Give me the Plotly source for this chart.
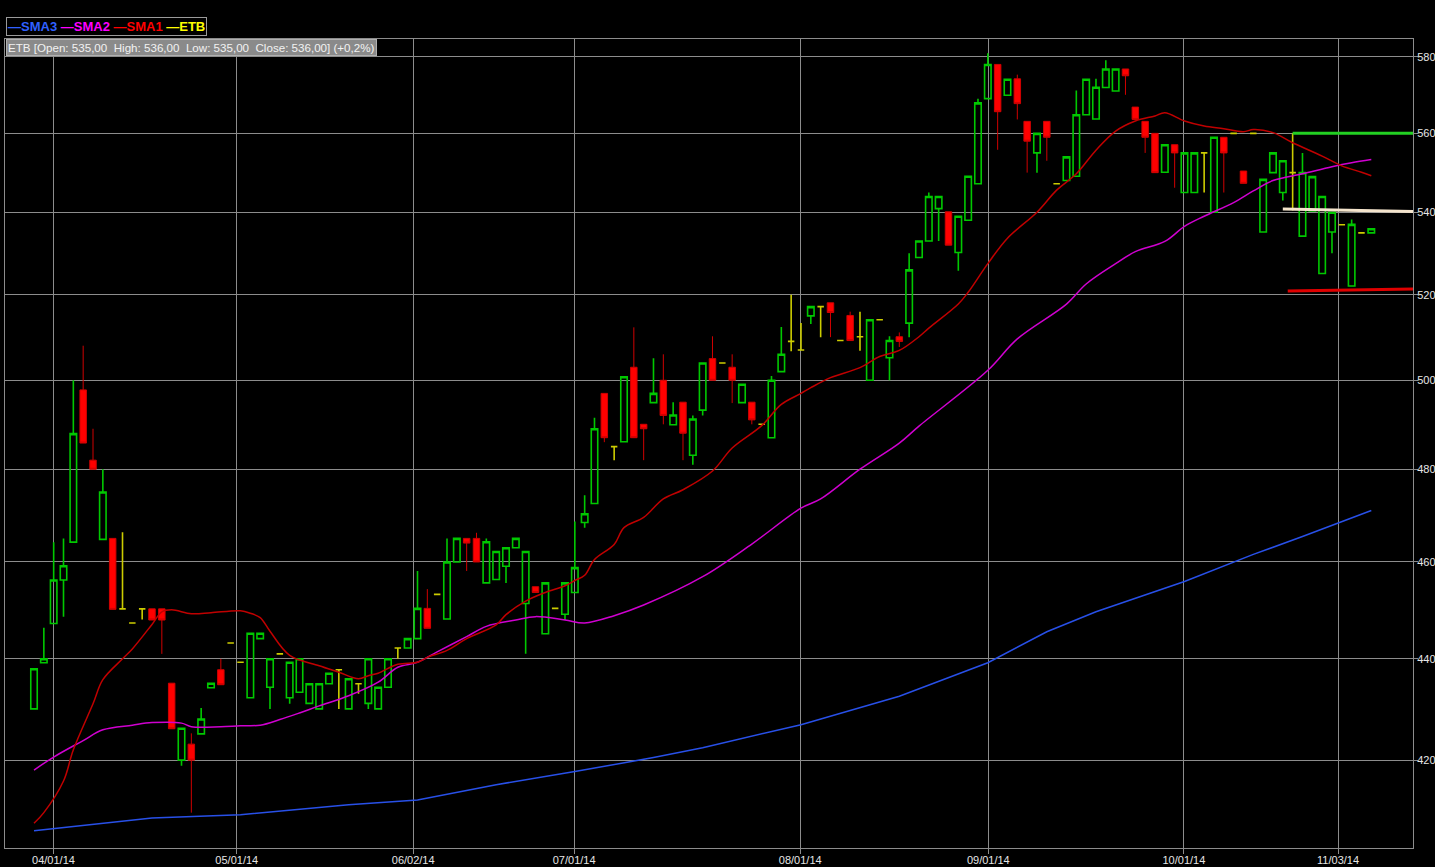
import plotly.graph_objects as go

# ---------------- data ----------------
OPEN = [430, 439.2, 447.2, 456.2, 464.2, 497.8, 482, 464.8, 465, 450.2,
        447.3, 450.2, 450.2, 450.2, 435.1, 420, 423.1, 425.1, 434.2, 437.8,
        443.2, 439.3, 432.2, 444.1, 434.3, 441, 432.2, 433.3, 431.1, 430,
        435, 437.8, 430, 435, 431.1, 430, 434.3, 442.2, 442.2, 444.1,
        450.3, 453.2, 448.1, 460, 465, 465, 455.6, 456.3, 459.1, 463,
        451.3, 454.8, 445.1, 450.3, 449.1, 453.6, 468.4, 472.5, 497, 485,
        486.1, 503, 490, 494.9, 500, 489.9, 495, 483.1, 493.2, 505,
        504, 503, 494.9, 495, 490, 487, 502, 509, 507, 515,
        517.2, 518.1, 509.2, 515.1, 510.1, 500, 514.1, 505.2, 510.1, 513.3,
        529, 533, 541, 540.2, 530.2, 538.1, 547.2, 569, 578, 569.9,
        574.2, 563.1, 555, 563.1, 547.2, 548, 549.1, 564.8, 563.7, 571.9,
        571, 576.8, 566.8, 563.1, 560, 550.1, 557.1, 545, 545, 555,
        540.1, 559, 560, 550.4, 560, 535.2, 550, 545, 550, 534.2,
        540.4, 525.1, 535.2, 537, 522.1, 535, 535]
HIGH = [438, 446.3, 464.2, 465, 500, 508, 489, 480, 465, 466.3,
        447.3, 450.2, 450.2, 450.2, 435.1, 426.2, 425.2, 430.2, 435.1, 440,
        443.2, 439.3, 445.2, 445.2, 440, 441, 439.3, 440, 435, 435,
        437.1, 437.8, 436, 435, 440, 434.3, 440, 442.2, 444.1, 458.1,
        454.3, 453.2, 465, 465, 465, 466.2, 465, 462.2, 463, 465,
        462.2, 454.8, 455.6, 450.3, 455.6, 468.6, 474.3, 491.5, 497, 485,
        500.8, 512.3, 490, 505.1, 506, 495, 495, 492, 504, 510.2,
        504, 506, 499.1, 495, 490, 501, 512.4, 520, 513.3, 517.2,
        517.2, 518.1, 509.2, 516, 516, 514.1, 514.1, 510.2, 511.1, 530,
        533, 545, 544, 540.2, 539.1, 549.1, 569, 581, 578, 574.1,
        575.3, 563.1, 560, 563.1, 547.2, 554, 571.1, 574.1, 574.2, 579.1,
        576.8, 576.8, 566.8, 563.1, 560, 557.1, 557.1, 555, 555, 555,
        559, 559, 560, 550.4, 560, 548.3, 555, 553, 560, 555,
        549, 544, 540.1, 537, 538.3, 535, 536]
LOW = [430, 439.2, 447.2, 448.6, 464.2, 485.8, 480, 464.8, 450.1, 450.2,
       447.3, 448, 447.9, 441, 426.1, 418.9, 410, 425.1, 434.2, 434.8,
       443.2, 439.3, 432.2, 444.1, 430, 441, 431, 433.3, 431.1, 430,
       435, 430, 430, 433, 430, 430, 434.3, 440, 442.2, 444.1,
       446.2, 453.2, 448.1, 460, 458.1, 460, 455.6, 456.3, 455.6, 463,
       441, 453.6, 445.1, 450.3, 447.9, 453.6, 467.3, 472.5, 486, 482,
       486.1, 487, 482, 494.9, 490, 489.9, 482, 481, 492, 500,
       504, 494.8, 494.9, 490, 490, 487, 502, 506.7, 507, 513.1,
       510, 510, 509.2, 509.2, 506.8, 500, 514.1, 500, 507.7, 510,
       529, 533, 533, 532, 525.8, 538.1, 547.2, 569, 555.8, 569.9,
       563.6, 550, 550, 553, 547.2, 548, 549.1, 564.8, 563.7, 571.9,
       571, 570, 563.6, 555, 550, 550.1, 546.2, 545, 545, 545,
       540.1, 545, 560, 547.3, 560, 535.2, 550, 543, 540.5, 534.2,
       540.4, 525.1, 530, 537, 522.1, 535, 535]
CLOSE = [438, 440, 456.2, 459.2, 487.9, 485.8, 480, 475, 450.1, 450.2,
         447.3, 450.2, 447.9, 447.9, 426.1, 426.2, 420, 428, 435.1, 434.8,
         443.2, 439.3, 445.2, 445.2, 440, 441, 439.3, 440, 435, 435,
         437.1, 437.8, 436, 435, 440, 434.3, 440, 442.2, 444.1, 450.3,
         446.2, 453.2, 460, 465, 464, 460, 464.3, 462.2, 463, 465,
         462.2, 453.6, 455.6, 450.3, 455.6, 458.8, 470.3, 489, 487, 485,
         500.8, 487, 489, 497, 492, 492.1, 488, 491.2, 504, 500,
         504, 500, 499.1, 491, 490, 500, 506, 509, 507, 517.2,
         517.2, 515.8, 509.2, 509.2, 510.1, 514.1, 514.1, 509.2, 509, 526,
         533, 544, 544, 532, 539.1, 549.1, 567.9, 578, 565.6, 574.1,
         567.7, 558, 560, 559, 547.2, 554, 564.8, 574.1, 572, 576.8,
         576.8, 575, 563.6, 559, 550, 557.1, 555, 555, 555, 555,
         559, 555, 560, 547.3, 560, 548.3, 555, 553, 550, 550,
         549, 544, 540.1, 537, 537.1, 535, 536]

# moving averages, read at sample sessions (session index, value)
SMA1_IDX = [0, 1, 3, 4, 6, 7, 9, 10, 12, 13, 14, 16, 18, 21, 22, 23, 24, 26, 29, 31,
            33, 34, 35, 37, 39, 40, 42, 44, 47, 48, 50, 52, 54, 55, 56, 57, 59, 60, 62, 64,
            66, 69, 71, 74, 76, 78, 79, 81, 84, 86, 88, 90, 91, 94, 95, 97, 99, 102, 104, 106,
            108, 110, 112, 114, 115, 117, 119, 121, 123, 124, 126, 128, 131, 133, 135, 136]
SMA1_VAL = [408, 410, 416, 422, 431, 435.8, 440, 442, 447, 449.6, 450, 449.2, 449.4, 449.8, 449.3, 448.4, 445.6, 440.7, 438.6, 437.3,
            436, 436.6, 437.1, 438.9, 439.3, 440.3, 441.7, 444.1, 446.9, 449, 451.8, 453.6, 455, 456.1, 457.2, 460.5, 463.7, 467.3, 469.5, 473.5,
            475.5, 479.6, 484.7, 489.7, 494.5, 497, 498.3, 500.6, 502.9, 505.5, 506.9, 510.1, 512.1, 517.8, 520.6, 527.5, 533.7, 540.1, 545.6, 549.7,
            555.7, 560.6, 563.2, 564.5, 565.3, 563.2, 561.9, 561.2, 560.4, 561, 560.2, 557.6, 554.2, 551.7, 550.1, 549.2]
SMA2_IDX = [0, 2, 5, 7, 10, 12, 15, 16, 19, 21, 23, 25, 27, 29, 32, 35, 37, 39, 41, 44,
            46, 49, 51, 54, 56, 59, 62, 68, 73, 78, 80, 84, 88, 90, 97, 100, 105, 107, 110, 112,
            115, 117, 119, 122, 124, 126, 129, 132, 134, 136]
SMA2_VAL = [418.1, 420.6, 423.8, 425.9, 426.8, 427.3, 427.2, 426.5, 426.5, 426.7, 426.8, 427.9, 429.2, 430.6, 432.6, 435.3, 438.3, 439.3, 441.4, 444.5,
            446.6, 447.9, 448.6, 447.9, 447.3, 448.8, 451, 456.9, 463.8, 471.5, 473.5, 480, 485.8, 489.6, 502.3, 509.6, 517.8, 522.6, 527.5, 530.4,
            532.9, 536.6, 539.1, 542.5, 545.4, 548, 549.7, 551.5, 552.5, 553.3]
SMA3_IDX = [0, 12, 21, 32, 39, 47, 55, 63, 68, 78, 88, 97, 103, 108, 117, 124, 129, 136]
SMA3_VAL = [406.6, 409.0, 409.6, 411.5, 412.4, 415.3, 417.8, 420.5, 422.4, 426.9,
            432.5, 439.2, 445.5, 449.6, 455.9, 461.6, 465.4, 471.0]

# drawn trend lines (session position, price)
RESIST_X, RESIST_Y = [128, 140.3], [560, 560]
MID_X, MID_Y = [127, 140.3], [540.9, 540.3]
SUPPORT_X, SUPPORT_Y = [127.5, 140.3], [520.9, 521.4]

X_TICK_POS = [1.98, 20.62, 38.56, 54.93, 77.92, 97.05, 116.94, 132.62]
X_TICK_TEXT = ['04/01/14', '05/01/14', '06/02/14', '07/01/14', '08/01/14',
               '09/01/14', '10/01/14', '11/03/14']
Y_TICKS = [420, 440, 460, 480, 500, 520, 540, 560, 580]

# ---------------------------------------------------------------
idx = list(range(len(OPEN)))
GREEN, RED, YEL = '#00c800', '#ff0000', '#cccc00'


def pick(cond):
    s = [i for i in idx if cond(OPEN[i], CLOSE[i])]
    return dict(x=s, open=[OPEN[i] for i in s], high=[HIGH[i] for i in s],
                low=[LOW[i] for i in s], close=[CLOSE[i] for i in s])


fig = go.Figure()
fig.add_trace(go.Scatter(x=SMA3_IDX, y=SMA3_VAL, mode='lines', name='SMA3',
                         line=dict(color='#2850e8', width=1.5), hoverinfo='skip'))
fig.add_trace(go.Scatter(x=SMA2_IDX, y=SMA2_VAL, mode='lines', name='SMA2',
                         line=dict(color='#d000d0', width=1.5, shape='spline'), hoverinfo='skip'))
fig.add_trace(go.Scatter(x=SMA1_IDX, y=SMA1_VAL, mode='lines', name='SMA1',
                         line=dict(color='#c00000', width=1.5, shape='spline'), hoverinfo='skip'))

up = pick(lambda o, c: c > o)
dn = pick(lambda o, c: c < o)
dj = pick(lambda o, c: c == o)
fig.add_trace(go.Candlestick(**up, name='ETB',
                             increasing=dict(line=dict(color=GREEN, width=1.6), fillcolor='rgba(0,0,0,0)'),
                             decreasing=dict(line=dict(color=GREEN, width=1.6), fillcolor='rgba(0,0,0,0)')))
fig.add_trace(go.Candlestick(**dn, name='ETB',
                             increasing=dict(line=dict(color='#d00000', width=1), fillcolor=RED),
                             decreasing=dict(line=dict(color='#d00000', width=1), fillcolor=RED)))
fig.add_trace(go.Candlestick(**dj, name='ETB',
                             increasing=dict(line=dict(color=YEL, width=1.6), fillcolor=YEL),
                             decreasing=dict(line=dict(color=YEL, width=1.6), fillcolor=YEL)))

fig.add_trace(go.Scatter(x=RESIST_X, y=RESIST_Y, mode='lines', line=dict(color='#22d022', width=3), hoverinfo='skip'))
fig.add_trace(go.Scatter(x=MID_X, y=MID_Y, mode='lines', line=dict(color='#f4e4cc', width=3), hoverinfo='skip'))
fig.add_trace(go.Scatter(x=SUPPORT_X, y=SUPPORT_Y, mode='lines', line=dict(color='#e00000', width=3), hoverinfo='skip'))

font = 'Liberation Sans Narrow, Arial Narrow, Liberation Sans, Arial, sans-serif'
legend_txt = ("<b><span style='color:#3060ff'>—SMA3</span> "
              "<span style='color:#ff00ff'>—SMA2</span> "
              "<span style='color:#ff0000'>—SMA1</span> "
              "<span style='color:#ffff00'>—ETB</span></b>")
last = len(OPEN) - 1
chg = (CLOSE[last] - CLOSE[last - 1]) / CLOSE[last - 1] * 100


def eu(v):
    return f'{v:.2f}'.replace('.', ',')


info_txt = (f"ETB [Open: {eu(OPEN[last])}  High: {eu(HIGH[last])}  Low: {eu(LOW[last])}  "
            f"Close: {eu(CLOSE[last])}] (+{chg:.1f}%)".replace('.', ','))

fig.update_layout(
    width=1435, height=867,
    paper_bgcolor='black', plot_bgcolor='black',
    margin=dict(l=5, r=22, t=39, b=19, autoexpand=False),
    showlegend=False,
    boxgap=0.06,
    font=dict(family=font, color='#e6e6e6', size=12),
    xaxis=dict(range=[-2.95, 140.24], tickvals=X_TICK_POS, ticktext=X_TICK_TEXT,
               automargin=False,
               showgrid=True, gridcolor='#8c8c8c', gridwidth=1, zeroline=False,
               showline=True, linecolor='#8c8c8c', mirror=True,
               ticks='outside', ticklen=5, tickcolor='#8c8c8c',
               ticklabelstandoff=-3,
               rangeslider=dict(visible=False), tickfont=dict(size=11, color='#e6e6e6')),
    yaxis=dict(type='log', range=[2.60574, 2.76700], side='right',
               tickvals=Y_TICKS, ticktext=[str(v) for v in Y_TICKS],
               automargin=False,
               showgrid=True, gridcolor='#8c8c8c', gridwidth=1, zeroline=False,
               showline=True, linecolor='#8c8c8c', mirror=True,
               ticks='outside', ticklen=4, tickcolor='#8c8c8c',
               ticklabelstandoff=-3,
               tickfont=dict(size=11, color='#e6e6e6')),
    annotations=[
        dict(xref='paper', yref='paper', x=0.0007, y=1.0272, xanchor='left', yanchor='top',
             text=legend_txt, showarrow=False, align='left', bgcolor='black',
             bordercolor='#9a9a9a', borderwidth=1, borderpad=1,
             font=dict(family=font, size=13)),
        dict(xref='paper', yref='paper', x=0.0007, y=1.0, xanchor='left', yanchor='top',
             text=info_txt, showarrow=False, align='left', bgcolor='#8a8a8a',
             bordercolor='#b0b0b0', borderwidth=1, borderpad=1,
             font=dict(family=font, size=11.6, color='#f2f2f2')),
    ],
)

fig.write_html('out.html', config=dict(displayModeBar=False),
               post_script="document.body.style.margin='0';document.body.style.overflow='hidden';"
                           "document.documentElement.style.background='black';")
